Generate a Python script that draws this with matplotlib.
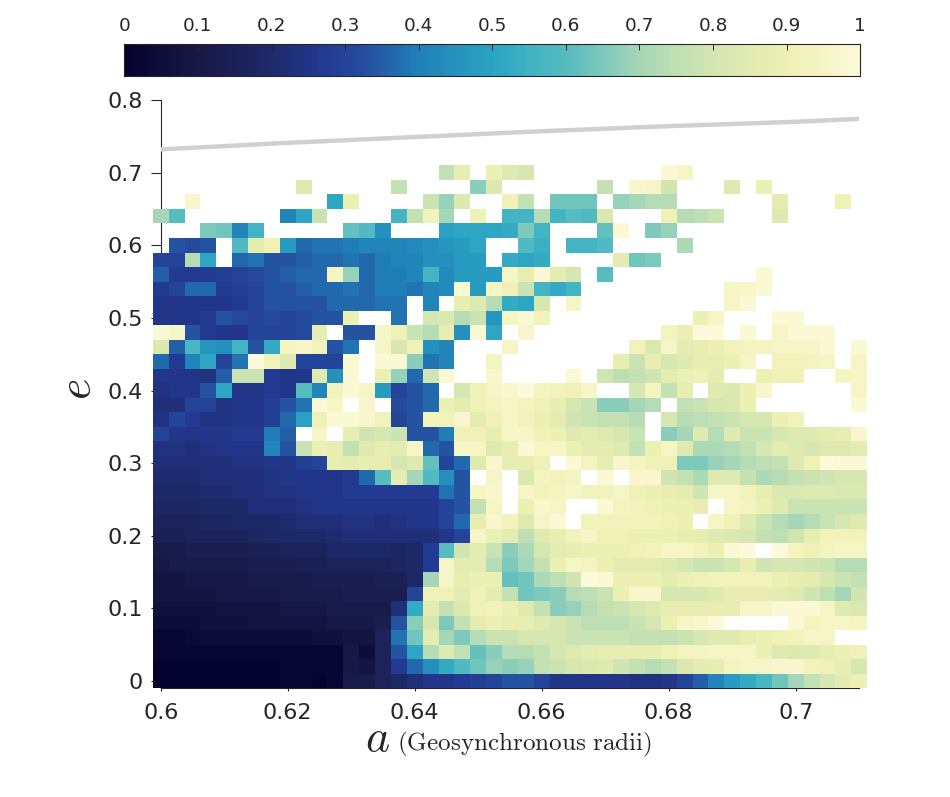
import numpy as np
import matplotlib
matplotlib.use('Agg')
import matplotlib.pyplot as plt
from matplotlib.colors import LinearSegmentedColormap

n = np.nan
a_vals = [0.6 + 0.0025 * k for k in range(45)]
e_vals = [0.02 * i for i in range(36)]

# values in percent, one list per eccentricity, columns run from a = 0.6 upwards
row_00 = [1,0,0,0,0,0,0,0,2,2,1,3,12,12,17,20,22,25,26,28,29,31,33,33,30,26,25,25,25,25,24,24,26,30,35,41,47,52,57,63,70,75,80,85,88]
row_02 = [1,1,1,1,1,1,1,1,2,2,2,3,10,8,17,27,37,45,53,58,63,68,67,68,75,78,81,82,83,79,75,72,76,82,85,87,93,95,95,96,96,92,90,86,80]
row_04 = [2,2,2,2,3,3,3,3,3,3,3,3,10,5,17,34,50,72,84,76,61,67,72,72,76,80,83,85,86,87,87,87,90,93,93,94,94,94,89,84,82,84,86,88,90]
row_06 = [3,3,4,5,5,5,5,5,6,6,7,7,8,9,17,38,63,85,70,65,72,77,78,80,80,80,78,78,77,77,76,76,76,77,80,83,84,87,88,90,92,94,95,n,n]
row_08 = [5,6,6,7,7,7,8,8,8,9,9,10,10,10,13,33,66,80,65,75,85,89,86,86,84,81,77,74,74,74,77,80,89,94,96,99,n,n,n,n,98,93,95,94,93]
row_10 = [7,7,7,7,8,8,9,9,10,10,10,11,11,12,12,22,53,85,76,82,90,92,89,84,75,66,68,72,75,78,81,84,86,86,86,87,87,95,95,97,97,98,94,84,82]
row_12 = [8,9,9,9,10,10,10,10,11,11,11,12,13,13,13,14,30,90,90,85,90,85,76,63,65,66,72,74,78,88,96,96,81,81,81,84,86,86,86,85,84,79,74,69,79]
row_14 = [9,9,10,10,10,10,11,11,12,12,13,13,14,14,15,15,20,70,94,86,88,88,62,63,71,74,79,99,97,88,89,89,85,89,90,91,91,91,91,88,87,85,80,78,76]
row_16 = [10,11,12,12,12,12,13,13,14,15,15,16,16,17,17,18,19,28,94,85,85,72,65,69,76,88,95,93,89,85,85,85,83,81,78,77,80,86,79,80,81,79,77,73,72]
row_18 = [12,12,13,14,14,14,15,15,16,17,16,19,20,20,19,18,20,28,60,79,85,77,67,71,80,85,87,88,89,89,90,92,94,94,92,89,97,100,n,99,93,90,93,95,95]
row_20 = [15,15,16,17,17,17,18,19,19,20,20,21,22,22,22,23,23,23,25,30,94,89,85,74,83,87,91,94,90,90,89,88,88,87,86,84,82,80,75,74,79,87,91,92,92]
row_22 = [17,17,17,18,18,19,19,20,21,22,22,23,24,24,23,24,25,25,30,36,87,96,91,84,95,97,n,92,92,92,92,91,90,89,n,94,90,84,77,73,70,72,78,80,83]
row_24 = [18,18,18,20,20,20,22,22,22,24,25,25,26,26,26,26,25,26,30,34,76,95,n,89,96,94,n,n,97,93,92,90,89,88,86,n,95,93,89,83,78,77,77,77,78]
row_26 = [19,19,19,21,21,22,22,24,24,25,26,26,27,27,27,28,28,28,39,33,94,96,n,95,91,93,95,92,92,94,90,88,87,85,79,95,94,91,86,82,82,83,84,82,82]
row_28 = [21,21,21,22,22,22,22,24,25,25,26,26,28,36,60,85,70,59,44,33,n,95,n,82,93,91,93,n,98,n,96,96,79,76,71,84,84,76,71,72,75,77,79,80,81]
row_30 = [22,22,22,22,22,24,24,25,26,29,31,87,85,87,87,81,84,62,30,36,83,96,87,87,90,n,98,93,87,96,93,90,90,65,65,68,70,72,74,76,83,90,99,98,98]
row_32 = [24,24,23,24,25,25,26,41,34,78,89,86,75,84,87,85,95,36,33,95,95,83,87,97,94,94,89,85,85,83,75,88,95,84,71,71,72,75,81,85,83,80,83,84,85]
row_34 = [30,25,25,25,25,27,27,40,35,n,95,n,86,79,80,77,33,33,40,90,90,87,95,95,90,88,84,85,83,80,77,n,67,70,83,72,84,77,78,81,83,84,85,87,96]
row_36 = [24,30,27,24,24,25,25,29,36,49,90,97,97,96,92,31,33,92,92,96,85,90,95,91,88,85,79,77,76,76,73,n,80,72,74,75,78,80,81,89,91,n,n,n,n]
row_38 = [23,23,30,30,24,25,25,29,34,39,98,95,n,96,n,32,33,36,88,85,90,93,95,93,90,87,80,78,67,67,70,72,n,76,78,80,82,89,n,n,n,n,n,n,98]
row_40 = [24,25,25,33,50,25,25,27,26,60,42,92,97,95,47,31,33,36,n,80,90,95,96,99,93,91,90,94,n,n,80,93,76,87,n,83,82,88,96,n,n,n,n,n,94]
row_42 = [25,25,25,24,35,77,78,27,25,25,83,44,98,n,89,68,36,79,97,n,n,96,n,n,n,n,98,n,79,74,76,79,85,89,90,85,n,n,89,90,90,n,n,93,94]
row_44 = [36,28,42,50,31,39,100,91,83,30,30,31,98,n,97,97,66,38,41,n,n,93,n,n,n,n,n,n,n,87,78,86,81,84,87,87,89,95,n,92,92,93,95,n,95]
row_46 = [82,35,57,46,44,55,34,52,93,95,91,33,38,n,94,80,90,45,41,n,n,n,95,n,n,n,n,n,n,n,91,82,95,85,87,89,91,93,93,94,95,95,97,n,98]
row_48 = [97,95,34,27,26,26,30,31,31,32,87,n,34,34,94,90,77,72,86,44,98,50,n,96,n,n,n,n,n,n,n,n,93,88,99,99,n,98,n,95,97,97,98,n,n]
row_50 = [25,25,25,27,34,32,30,32,31,32,34,33,89,n,n,39,n,80,82,72,78,46,95,98,91,n,n,n,n,n,n,n,n,n,89,95,n,n,n,97,98,n,n,n,n]
row_52 = [25,25,26,26,26,28,30,33,33,34,34,36,37,37,38,38,n,42,n,87,83,72,53,50,80,n,95,n,n,n,n,n,n,n,n,n,95,98,n,n,n,n,n,n,n]
row_54 = [27,31,37,37,28,29,30,34,34,35,36,37,38,37,40,40,38,42,43,97,47,94,90,77,56,53,55,n,n,n,n,n,n,n,n,n,95,96,98,n,n,n,n,n,n]
row_56 = [35,28,28,28,29,30,32,34,35,37,37,93,68,37,40,40,41,56,43,47,47,47,95,86,97,85,80,n,60,n,n,n,n,n,n,n,n,n,98,n,n,n,n,n,n]
row_58 = [30,30,72,50,n,37,39,34,34,35,37,37,38,37,40,42,42,44,45,47,48,n,52,50,53,n,n,n,n,85,63,65,n,n,n,n,n,n,n,n,n,n,n,n,n]
row_60 = [n,33,32,33,n,58,85,90,47,37,38,38,40,41,42,42,43,45,46,47,50,n,n,58,54,n,56,56,59,n,n,n,n,71,n,n,n,n,n,n,n,n,n,n,n]
row_62 = [n,n,n,65,64,41,55,n,n,n,n,n,61,58,44,n,n,n,49,50,50,50,52,65,55,n,n,n,61,98,n,65,68,n,n,n,n,n,n,n,n,n,n,n,n]
row_64 = [70,60,n,n,n,n,n,n,42,50,77,n,n,n,n,56,75,92,70,n,90,n,55,56,72,56,60,59,82,n,n,n,90,73,74,77,n,n,n,83,n,n,n,n,n]
row_66 = [n,n,96,n,n,n,n,n,n,n,n,50,89,n,n,n,n,77,68,82,n,n,90,76,n,64,63,64,n,68,70,72,73,n,n,n,n,n,n,85,n,n,n,90,n]
row_68 = [n,n,n,n,n,n,n,n,n,84,n,n,n,n,n,76,n,n,n,n,66,82,n,n,n,n,n,n,76,n,96,94,79,n,n,n,84,n,88,n,n,n,n,n,n]
row_70 = [n,n,n,n,n,n,n,n,n,n,n,n,n,n,n,n,n,n,75,87,n,88,84,80,n,n,n,n,n,n,n,n,98,94,n,n,n,n,n,n,n,n,n,n,n]

rows = [row_00,row_02,row_04,row_06,row_08,row_10,row_12,row_14,row_16,row_18,row_20,row_22,
        row_24,row_26,row_28,row_30,row_32,row_34,row_36,row_38,row_40,row_42,row_44,row_46,
        row_48,row_50,row_52,row_54,row_56,row_58,row_60,row_62,row_64,row_66,row_68,row_70]

# reading of the grey boundary curve
curve_a = [0.60, 0.62, 0.64, 0.66, 0.68, 0.70, 0.71]
curve_e = [0.732, 0.741, 0.749, 0.757, 0.764, 0.770, 0.774]

x_ticks = [0.6, 0.62, 0.64, 0.66, 0.68, 0.7]
x_labels = ['0.6', '0.62', '0.64', '0.66', '0.68', '0.7']
y_ticks = [0, 0.1, 0.2, 0.3, 0.4, 0.5, 0.6, 0.7, 0.8]
y_labels = ['0', '0.1', '0.2', '0.3', '0.4', '0.5', '0.6', '0.7', '0.8']
cbar_ticks = [0, 0.1, 0.2, 0.3, 0.4, 0.5, 0.6, 0.7, 0.8, 0.9, 1]
cbar_labels = ['0', '0.1', '0.2', '0.3', '0.4', '0.5', '0.6', '0.7', '0.8', '0.9', '1']

anchors = [(0.0, '#03032d'), (0.1, '#181946'), (0.2, '#1e2a6a'), (0.27, '#233a92'),
           (0.32, '#254a9e'), (0.4, '#2080b8'), (0.5, '#2ba4c3'), (0.55, '#40b3c3'),
           (0.6, '#55bbc0'), (0.65, '#7cc9bc'), (0.7, '#a5d6b7'), (0.75, '#bfe0b3'),
           (0.8, '#d3e6b2'), (0.85, '#e2ebb1'), (0.9, '#eef1b4'), (0.95, '#f6f5c5'),
           (1.0, '#fdf9db')]
cmap = LinearSegmentedColormap.from_list('yg', anchors, N=64)
cmap_fine = LinearSegmentedColormap.from_list('yg_fine', anchors, N=512)

W, H = 950, 797
INK = '#262626'
plt.rcParams['font.family'] = 'DejaVu Sans'
plt.rcParams['mathtext.fontset'] = 'cm'
fig = plt.figure(figsize=(W / 100, H / 100), dpi=100)

ax = fig.add_axes([160.7 / W, 1 - 688.3 / H, 698.5 / W, 588.3 / H])
Z = np.array(rows, dtype=float) / 100
a_arr = np.array(a_vals)
e_arr = np.array(e_vals)
a_edges = np.r_[a_arr - 0.00125, a_arr[-1] + 0.00125]
e_edges = np.r_[e_arr - 0.01, e_arr[-1] + 0.01]
mesh = ax.pcolormesh(a_edges, e_edges, np.ma.masked_invalid(Z), cmap=cmap, vmin=0, vmax=1,
                     clip_on=False, zorder=3, antialiased=False, linewidth=0)
ax.plot(curve_a, curve_e, color='#d0d0d0', lw=3.2, zorder=4, solid_capstyle='butt')
ax.set_xlim(0.6, 0.71)
ax.set_ylim(-0.01, 0.8)
ax.set_axisbelow(True)
for s in ['top', 'right']:
    ax.spines[s].set_visible(False)
for s in ['left', 'bottom']:
    ax.spines[s].set_color(INK)
    ax.spines[s].set_linewidth(0.8)
    ax.spines[s].set_zorder(0.5)
ax.set_xticks(x_ticks, x_labels)
ax.set_yticks(y_ticks, y_labels)
ax.tick_params(axis='both', labelsize=16, labelcolor=INK, color=INK, width=0.8, direction='out')
ax.tick_params(axis='x', length=2.2, pad=8.5)
ax.tick_params(axis='y', length=7, pad=5.8)

fig.text(377 / W, 1 - 751 / H, r'$a$', fontsize=33, color=INK, ha='center', va='baseline')
fig.text(397 / W, 1 - 750 / H, r'$\mathrm{(Geosynchronous\ radii)}$', fontsize=18.1,
         color=INK, ha='left', va='baseline')
fig.text(100 / W, 1 - 389 / H, r'$e$', fontsize=33, color=INK, rotation=90,
         ha='right', va='center')

cax = fig.add_axes([124.3 / W, 1 - 76 / H, 736 / W, 32 / H])
levels = np.linspace(0, 1, 512).reshape(1, -1)
cax.imshow(levels, cmap=cmap_fine, vmin=0, vmax=1, aspect='auto', extent=[0, 1, 0, 1],
           interpolation='nearest')
cax.set_yticks([])
cax.set_xticks(cbar_ticks, cbar_labels)
cax.xaxis.tick_top()
cax.tick_params(axis='x', direction='in', length=4.5, width=0.7, color=INK,
                labelsize=13.3, labelcolor=INK, pad=6.5)
for s in cax.spines.values():
    s.set_color(INK)
    s.set_linewidth(0.8)

fig.savefig('out.png', dpi=100, facecolor='white')
